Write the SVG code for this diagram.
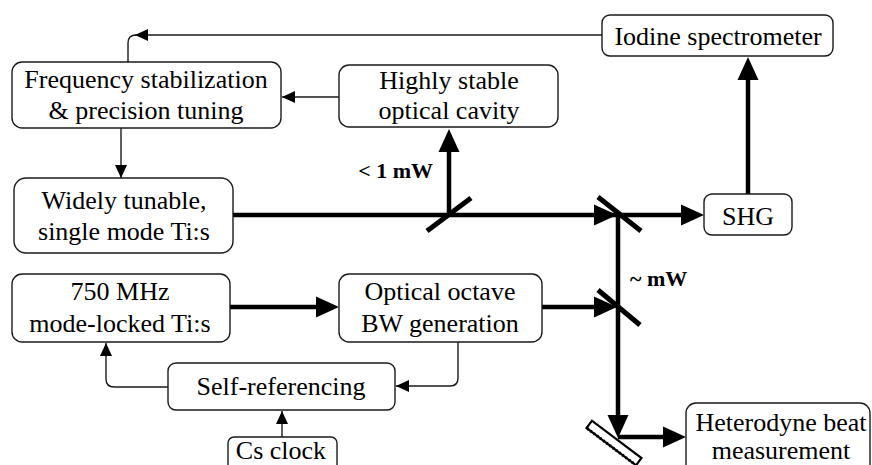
<svg xmlns="http://www.w3.org/2000/svg" width="872" height="465" viewBox="0 0 872 465" font-family="'Liberation Serif', 'Times New Roman', 'DejaVu Serif', serif">
<style>
.box{fill:#fff;stroke:#1a1a1a;stroke-width:1.4}
.t{font-family:'Liberation Serif','Times New Roman','DejaVu Serif',serif;font-size:26px;fill:#000;text-anchor:middle}
.lbl{font-family:'Liberation Serif','Times New Roman','DejaVu Serif',serif;font-size:22px;font-weight:bold;fill:#000}
.thin{fill:none;stroke:#1a1a1a;stroke-width:1.4}
.thick{fill:none;stroke:#000;stroke-width:4.5}
.bs{stroke:#000;stroke-width:5;fill:none}
</style>
<defs>
<marker id="ah" markerUnits="userSpaceOnUse" markerWidth="14" markerHeight="12" refX="13" refY="6" orient="auto">
<path d="M0,0 L13,6 L0,12 z" fill="#000"/>
</marker>
<marker id="AH" markerUnits="userSpaceOnUse" markerWidth="24" markerHeight="22" refX="12" refY="11" orient="auto">
<path d="M0,0.5 L23,11 L0,21.5 z" fill="#000"/>
</marker>
</defs>
<rect width="872" height="465" fill="#fff"/>
<g id="connectors">
<path class="thin" d="M602,35 H135" marker-end="url(#ah)"/>
<path class="thin" d="M136,35 Q128,35 128,43 V62"/>
<path class="thin" d="M339,97 H282" marker-end="url(#ah)"/>
<path class="thin" d="M121,128 V178" marker-end="url(#ah)"/>
<path class="thin" d="M458,342 V378 Q458,386 450,386 H396" marker-end="url(#ah)"/>
<path class="thin" d="M168,387 H114 Q106,387 106,379 V343" marker-end="url(#ah)"/>
<path class="thin" d="M282,437 V411" marker-end="url(#ah)"/>
<path class="thick" d="M233,215 H606" marker-end="url(#AH)"/>
<path class="thick" d="M606,215 H693" marker-end="url(#AH)"/>
<path class="thick" d="M449,215 V140" marker-end="url(#AH)"/>
<path class="thick" d="M748,194 V68" marker-end="url(#AH)"/>
<path class="thick" d="M230,307 H328" marker-end="url(#AH)"/>
<path class="thick" d="M542,307 H606" marker-end="url(#AH)"/>
<path class="thick" d="M618,215 V427" marker-end="url(#AH)"/>
<path class="thick" d="M618,437 H675" marker-end="url(#AH)"/>
<line class="bs" x1="427" y1="231" x2="471" y2="198"/>
<line class="bs" x1="598" y1="197" x2="641" y2="231"/>
<line class="bs" x1="598" y1="290" x2="640" y2="325"/>
<g id="mirror" transform="translate(614,443) rotate(37)">
<rect x="-31" y="-4.5" width="62" height="9" fill="#fff" stroke="#000" stroke-width="2.2"/>
<line x1="-30" y1="4.5" x2="30" y2="4.5" stroke="#000" stroke-width="3" stroke-dasharray="1.5 2.5"/>
</g>
<text class="lbl" x="433" y="178" text-anchor="end">&lt; 1 mW</text>
<text class="lbl" x="630" y="286">~ mW</text>
</g>
<g id="freq">
<rect class="box" x="12" y="62" width="269" height="66" rx="10"/>
<text class="t" x="146" y="88">Frequency stabilization</text>
<text class="t" x="146" y="119">&amp; precision tuning</text>
</g>
<g id="cavity">
<rect class="box" x="339" y="65" width="219" height="62" rx="10"/>
<text class="t" x="449" y="89">Highly stable</text>
<text class="t" x="449" y="119">optical cavity</text>
</g>
<g id="iodine">
<rect class="box" x="602" y="15" width="231" height="41" rx="8"/>
<text class="t" x="718" y="45">Iodine spectrometer</text>
</g>
<g id="widely">
<rect class="box" x="14" y="178" width="219" height="75" rx="12"/>
<text class="t" x="124" y="209">Widely tunable,</text>
<text class="t" x="124" y="240">single mode Ti:s</text>
</g>
<g id="shg">
<rect class="box" x="704" y="194" width="88" height="41" rx="8"/>
<text class="t" x="748" y="225">SHG</text>
</g>
<g id="modelocked">
<rect class="box" x="12" y="274" width="218" height="68" rx="10"/>
<text class="t" x="120" y="300">750 MHz</text>
<text class="t" x="120" y="332">mode-locked Ti:s</text>
</g>
<g id="octave">
<rect class="box" x="339" y="274" width="203" height="68" rx="10"/>
<text class="t" x="440" y="300">Optical octave</text>
<text class="t" x="440" y="332">BW generation</text>
</g>
<g id="selfref">
<rect class="box" x="168" y="363" width="227" height="47" rx="8"/>
<text class="t" x="281" y="395">Self-referencing</text>
</g>
<g id="csclock">
<rect class="box" x="228" y="437" width="109" height="40" rx="6"/>
<text class="t" x="281" y="459">Cs clock</text>
</g>
<g id="heterodyne">
<rect class="box" x="686" y="403" width="184" height="80" rx="10"/>
<text class="t" x="781" y="431">Heterodyne beat</text>
<text class="t" x="781" y="459">measurement</text>
</g>
</svg>
